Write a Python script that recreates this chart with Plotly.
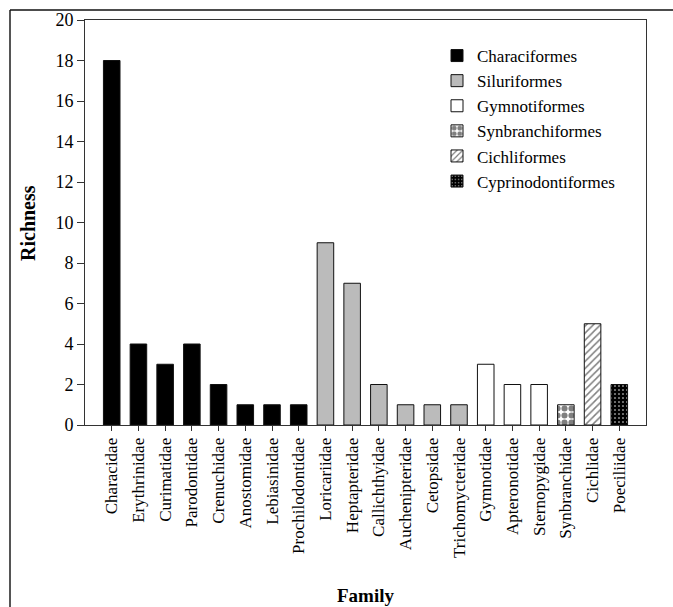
import plotly.graph_objects as go

families = ["Characidae", "Erythrinidae", "Curimatidae", "Parodontidae", "Crenuchidae",
            "Anostomidae", "Lebiasinidae", "Prochilodontidae", "Loricariidae", "Heptapteridae",
            "Callichthyidae", "Auchenipteridae", "Cetopsidae", "Trichomycteridae", "Gymnotidae",
            "Apteronotidae", "Sternopygidae", "Synbranchidae", "Cichlidae", "Poeciliidae"]

characiformes_fam = families[0:8]
characiformes_val = [18, 4, 3, 4, 2, 1, 1, 1]
siluriformes_fam = families[8:14]
siluriformes_val = [9, 7, 2, 1, 1, 1]
gymnotiformes_fam = families[14:17]
gymnotiformes_val = [3, 2, 2]
synbranchiformes_fam = ["Synbranchidae"]
synbranchiformes_val = [1]
cichliformes_fam = ["Cichlidae"]
cichliformes_val = [5]
cyprinodontiformes_fam = ["Poeciliidae"]
cyprinodontiformes_val = [2]

orders = ["Characiformes", "Siluriformes", "Gymnotiformes", "Synbranchiformes",
          "Cichliformes", "Cyprinodontiformes"]

FONT = "Liberation Serif, Times New Roman, serif"

styles = [
    dict(color="black"),
    dict(color="#bbbbbb"),
    dict(color="white"),
    dict(color="white", pattern=dict(shape=".", fgcolor="black", bgcolor="white", size=7, solidity=0.6, fillmode="overlay")),
    dict(color="white", pattern=dict(shape="/", fgcolor="black", bgcolor="white", size=5, solidity=0.3, fillmode="overlay")),
    dict(color="black", pattern=dict(shape=".", fgcolor="white", bgcolor="black", size=4, solidity=0.12, fillmode="replace")),
]

data = [
    (characiformes_fam, characiformes_val),
    (siluriformes_fam, siluriformes_val),
    (gymnotiformes_fam, gymnotiformes_val),
    (synbranchiformes_fam, synbranchiformes_val),
    (cichliformes_fam, cichliformes_val),
    (cyprinodontiformes_fam, cyprinodontiformes_val),
]

fig = go.Figure()
for name, (fam, val), st in zip(orders, data, styles):
    marker = dict(color=st["color"], line=dict(color="#111111", width=1))
    if "pattern" in st:
        marker["pattern"] = st["pattern"]
    fig.add_trace(go.Bar(x=fam, y=val, name=name, width=0.62, marker=marker))

W, H = 673, 607
L, R, T, B = 85, 27, 20, 182
pw, ph = W - L - R, H - T - B

def px(x):
    return (x - L) / pw

def py(y):
    return (H - B - y) / ph

fig.update_layout(
    width=W, height=H,
    margin=dict(l=L, r=R, t=T, b=B, autoexpand=False),
    plot_bgcolor="white", paper_bgcolor="white",
    barmode="overlay",
    font=dict(family=FONT, size=17, color="black"),
    showlegend=True,
    legend=dict(x=px(437), y=py(38), xanchor="left", yanchor="top",
                bgcolor="rgba(0,0,0,0)", font=dict(family=FONT, size=17),
                traceorder="normal", itemwidth=30),
    xaxis=dict(type="category", categoryorder="array", categoryarray=families,
               range=[-1, 20], tickangle=-90, ticks="outside", ticklen=5,
               tickcolor="#333", showline=True, linecolor="#333", linewidth=1,
               mirror=True, showgrid=False, tickfont=dict(family=FONT, size=17),
               automargin=False),
    yaxis=dict(range=[0, 20], dtick=2, ticks="outside", ticklen=7, tickcolor="#333",
               showline=True, linecolor="#333", linewidth=1, mirror=True,
               showgrid=False, zeroline=False, tickfont=dict(family=FONT, size=18),
               automargin=False),
    annotations=[
        dict(text="<b>Richness</b>", x=px(28), y=py(223), xref="paper", yref="paper",
             textangle=-90, showarrow=False, font=dict(family=FONT, size=20),
             xanchor="center", yanchor="middle"),
        dict(text="<b>Family</b>", x=px(365), y=py(595), xref="paper", yref="paper",
             showarrow=False, font=dict(family=FONT, size=19),
             xanchor="center", yanchor="middle"),
    ],
    shapes=[
        dict(type="line", xref="paper", yref="paper", x0=px(10), x1=px(10),
             y0=py(10), y1=py(607), line=dict(color="#555", width=2)),
        dict(type="line", xref="paper", yref="paper", x0=px(10), x1=px(673),
             y0=py(10), y1=py(10), line=dict(color="#111", width=1.5)),
    ],
)

fig.write_html("out.html", config={"displayModeBar": False},
               post_script="document.body.style.margin='0';document.body.style.overflow='hidden';")
